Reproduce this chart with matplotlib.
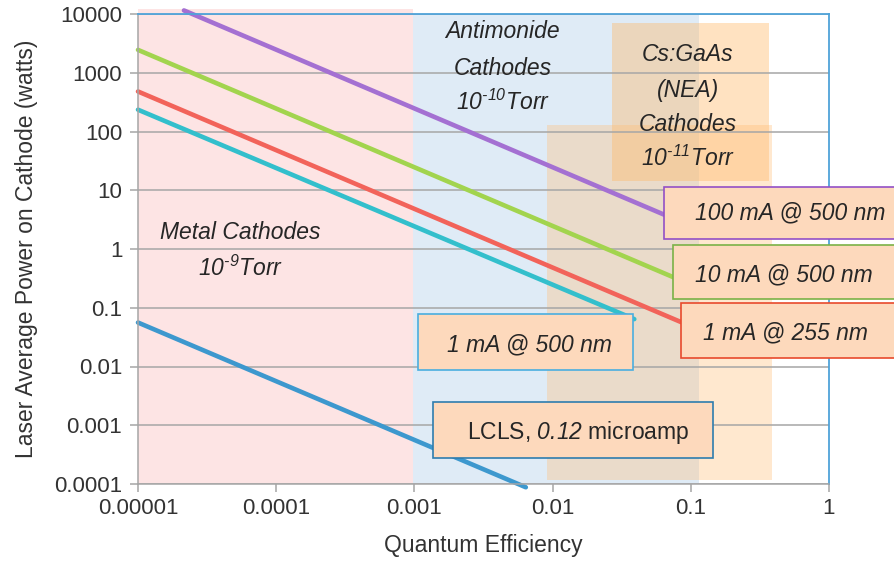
import matplotlib
matplotlib.use('Agg')
import matplotlib.pyplot as plt
from matplotlib.patches import Rectangle

plt.rcParams['font.family'] = ['Liberation Sans', 'DejaVu Sans']
plt.rcParams['mathtext.fontset'] = 'custom'
plt.rcParams['mathtext.rm'] = 'Liberation Sans:italic'
plt.rcParams['mathtext.it'] = 'Liberation Sans:italic'

# laser power lines: straight on log-log, given by their end points
series_names = ['100 mA @ 500 nm', '10 mA @ 500 nm', '1 mA @ 255 nm',
                '1 mA @ 500 nm', r'LCLS, $0.12$ microamp']
qe_start = [2.15e-5, 1e-5, 1e-5, 1e-5, 1e-5]
qe_end = [0.064, 0.075, 0.085, 0.039, 0.0064]
power_start = [11500, 2450, 480, 235, 0.056]
power_end = [3.85, 0.33, 0.057, 0.064, 0.000088]
line_colors = ['#A470D2', '#A2D44E', '#F2635A', '#33BFCC', '#3D98CE']
edge_colors = ['#9350C6', '#7BB247', '#E84A2C', '#4AAEE0', '#2E7DAE']

# cathode regions (qe from, qe to, power from, power to)
region_qe0 = [1e-5, 0.00097, 0.0091, 0.027]
region_qe1 = [0.00097, 0.114, 0.39, 0.37]
region_p0 = [1e-4, 1e-4, 1.17e-4, 14.4]
region_p1 = [12200, 1e4, 129, 7000]
region_colors = ['#FDE4E4', '#DFEBF6', '#FFBE78', '#FFB866']
region_alpha = [1, 1, 0.35, 0.4]

xticks = [1e-5, 1e-4, 1e-3, 1e-2, 1e-1, 1]
xticklabels = ['0.00001', '0.0001', '0.001', '0.01', '0.1', '1']
yticks = [1e-4, 1e-3, 1e-2, 1e-1, 1, 10, 100, 1000, 10000]
yticklabels = ['0.0001', '0.001', '0.01', '0.1', '1', '10', '100', '1000', '10000']

fig = plt.figure(figsize=(8.95, 5.65), dpi=100)
ax = fig.add_axes([138/895, 81/565, 691/895, 470/565])
ax.set_xscale('log')
ax.set_yscale('log')
ax.set_xlim(1e-5, 1)
ax.set_ylim(1e-4, 1e4)

for i in range(len(region_qe0)):
    ax.add_patch(Rectangle((region_qe0[i], region_p0[i]),
                           region_qe1[i] - region_qe0[i], region_p1[i] - region_p0[i],
                           facecolor=region_colors[i], alpha=region_alpha[i],
                           edgecolor='none', zorder=0.1, clip_on=False))

for i in range(len(series_names)):
    ax.plot([qe_start[i], qe_end[i]], [power_start[i], power_end[i]],
            color=line_colors[i], lw=3.3, solid_capstyle='round', zorder=2, clip_on=False)

ax.set_axisbelow(True)
ax.yaxis.grid(True, color='#A6A6A6', lw=1.1)
ax.set_xticks(xticks)
ax.set_xticklabels(xticklabels)
ax.set_yticks(yticks)
ax.set_yticklabels(yticklabels)
ax.minorticks_off()
ax.tick_params(axis='both', direction='out', length=5.8, width=1.1, color='#A6A6A6',
               labelcolor='#333333', labelsize=16)
ax.tick_params(axis='y', pad=5.5)
ax.tick_params(axis='x', pad=4)
for s in ['top', 'right']:
    ax.spines[s].set_color('#4FA3D9')
    ax.spines[s].set_linewidth(1.3)
for s in ['left', 'bottom']:
    ax.spines[s].set_color('#A6A6A6')
    ax.spines[s].set_linewidth(1.1)

ax.set_xlabel('Quantum Efficiency', fontsize=16.5, color='#333333', labelpad=11)
ax.set_ylabel('Laser Average Power on Cathode (watts)', fontsize=16.5, color='#333333', labelpad=12)

# region names
tk = dict(transform=ax.transAxes, ha='center', va='center', fontsize=16.5,
          style='italic', color='#262626', zorder=4)
ax.text(0.148, 0.536, 'Metal Cathodes', **tk)
ax.text(0.148, 0.460, r'10$^{\text{-}9}$Torr', **tk)
ax.text(0.528, 0.962, 'Antimonide', **tk)
ax.text(0.528, 0.885, 'Cathodes', **tk)
ax.text(0.528, 0.813, r'10$^{\text{-}10}$Torr', **tk)
ax.text(0.796, 0.913, 'Cs:GaAs', **tk)
ax.text(0.796, 0.838, '(NEA)', **tk)
ax.text(0.796, 0.764, 'Cathodes', **tk)
ax.text(0.796, 0.694, r'10$^{\text{-}11}$Torr', **tk)

# labelled boxes for each line
box_x0 = [0.761, 0.774, 0.786, 0.405, 0.427]
box_x1 = [1.12, 1.12, 1.12, 0.716, 0.832]
box_y0 = [0.521, 0.394, 0.268, 0.243, 0.055]
box_y1 = [0.632, 0.509, 0.385, 0.362, 0.174]
text_x = [0.806, 0.806, 0.818, 0.447, 0.476]
text_y = [0.577, 0.445, 0.321, 0.296, 0.109]
for i in range(len(series_names)):
    ax.add_patch(Rectangle((box_x0[i], box_y0[i]), box_x1[i] - box_x0[i], box_y1[i] - box_y0[i],
                           transform=ax.transAxes, facecolor='#FDD9BC', edgecolor=edge_colors[i],
                           lw=1.2, zorder=3, clip_on=False))
    style = 'normal' if i == 4 else 'italic'
    ax.text(text_x[i], text_y[i], series_names[i], transform=ax.transAxes, ha='left', va='center',
            fontsize=16.5, style=style, color='#262626', zorder=4, clip_on=False)

fig.savefig('out.png', dpi=100)
